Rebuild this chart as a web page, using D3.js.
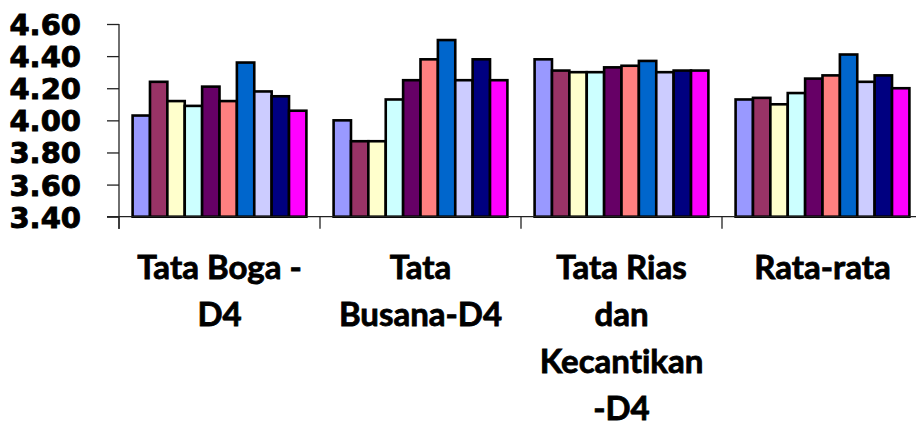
<!DOCTYPE html>
<html>
<head>
<meta charset="utf-8">
<script src="https://cdn.jsdelivr.net/npm/d3@7"></script>
<style>
  html, body { margin: 0; padding: 0; background: #fff; }
  svg { display: block; }
  text { font-variant-ligatures: none; }
</style>
</head>
<body>
<svg id="chart" width="916" height="426"></svg>
<script>
// ---- data ----
const categories = ["Tata Boga - D4", "Tata Busana-D4", "Tata Rias dan Kecantikan -D4", "Rata-rata"];
const categoryLines = [["Tata Boga -", "D4"], ["Tata", "Busana-D4"], ["Tata Rias", "dan", "Kecantikan", "-D4"], ["Rata-rata"]];
const seriesNames = ["S1", "S2", "S3", "S4", "S5", "S6", "S7", "S8", "S9", "S10"];
const tataBoga   = [4.03, 4.24, 4.12, 4.09, 4.21, 4.12, 4.36, 4.18, 4.15, 4.06];
const tataBusana = [4.00, 3.87, 3.87, 4.13, 4.25, 4.38, 4.50, 4.25, 4.38, 4.25];
const tataRias   = [4.38, 4.31, 4.30, 4.30, 4.33, 4.34, 4.37, 4.30, 4.31, 4.31];
const rataRata   = [4.13, 4.14, 4.10, 4.17, 4.26, 4.28, 4.41, 4.24, 4.28, 4.20];
const yTicks = [3.40, 3.60, 3.80, 4.00, 4.20, 4.40, 4.60];
const colors = ["#9999FF", "#993366", "#FFFFCC", "#CCFFFF", "#660066", "#FF8080", "#0066CC", "#CCCCFF", "#000080", "#FF00FF"];

const groupValues = [tataBoga, tataBusana, tataRias, rataRata];

// ---- layout ----
const svg = d3.select("#chart");
const x0 = d3.scaleBand().domain(categories).range([119, 923]).paddingInner(0).paddingOuter(0);
const gw = x0.bandwidth();
const x1 = d3.scaleBand().domain(seriesNames).range([13.6, gw - 13.6]).padding(0);
const y = d3.scaleLinear().domain([3.4, 4.6]).range([216.7, 24]);

// bars
const groups = svg.append("g").selectAll("g").data(categories).join("g")
  .attr("transform", d => `translate(${x0(d)},0)`);
groups.selectAll("rect")
  .data((d, i) => groupValues[i].map((v, j) => ({ s: seriesNames[j], v, c: colors[j] })))
  .join("rect")
  .attr("x", d => x1(d.s))
  .attr("width", x1.bandwidth())
  .attr("y", d => y(d.v))
  .attr("height", d => y(3.4) - y(d.v))
  .attr("fill", d => d.c)
  .attr("stroke", "#000")
  .attr("stroke-width", 2.6);

// y axis
const yAxis = d3.axisLeft(y).tickValues(yTicks).tickFormat(d3.format(".2f")).tickSize(12).tickPadding(26);
const yg = svg.append("g").attr("transform", "translate(119,0)").call(yAxis);
yg.select(".domain").attr("d", `M0,${y(4.6)}V229`).attr("stroke", "#222").attr("stroke-width", 1.3);
yg.selectAll(".tick line").attr("stroke", "#222").attr("stroke-width", 1.3);
yg.selectAll(".tick text")
  .attr("font-family", "'DejaVu Sans', Verdana, sans-serif")
  .attr("font-weight", "bold")
  .attr("font-size", 29)
  .attr("fill", "#000")
  .attr("stroke", "#000")
  .attr("stroke-width", 0.9)
  .attr("dy", "0.36em");

// x axis
const xAxis = d3.axisBottom(x0).tickSize(0).tickFormat("");
const xg = svg.append("g").attr("transform", `translate(0,${y(3.4)})`).call(xAxis);
xg.select(".domain").attr("d", `M107,0H923`).attr("stroke", "#222").attr("stroke-width", 1.3);
xg.selectAll(".tick").remove();
// category boundary ticks
const bounds = categories.map(c => x0(c)).concat([x0(categories[categories.length - 1]) + gw]);
xg.selectAll("line.bnd").data(bounds).join("line")
  .attr("class", "bnd")
  .attr("x1", d => d).attr("x2", d => d)
  .attr("y1", 0).attr("y2", 12)
  .attr("stroke", "#222").attr("stroke-width", 1.3);

// category labels
const lab = svg.append("g").selectAll("text").data(categories).join("text")
  .attr("text-anchor", "middle")
  .attr("font-family", "Lato, 'Open Sans', sans-serif")
  .attr("font-weight", "bold")
  .attr("font-size", 33)
  .attr("fill", "#000")
  .attr("stroke", "#000")
  .attr("stroke-width", 0.8);
lab.each(function(d, i) {
  const t = d3.select(this);
  categoryLines[i].forEach((ln, k) => {
    t.append("tspan")
      .attr("x", x0(d) + gw / 2)
      .attr("y", 279 + k * 47)
      .text(ln);
  });
});
</script>
</body>
</html>
